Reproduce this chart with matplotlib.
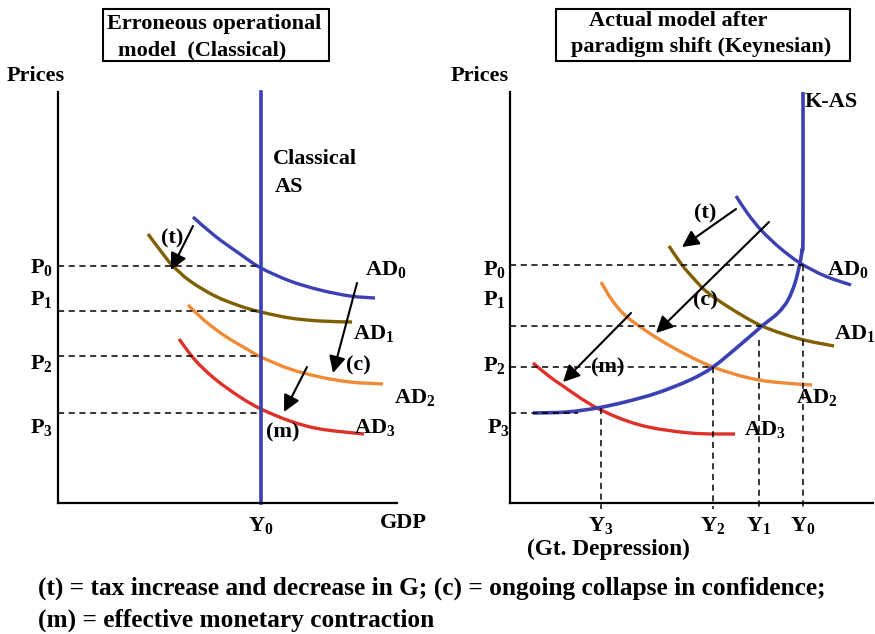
import matplotlib.pyplot as plt
from matplotlib.patches import Rectangle, PathPatch
from matplotlib.path import Path

plt.rcParams['font.family'] = ['Liberation Serif', 'DejaVu Serif']
plt.rcParams['font.weight'] = 'bold'
plt.rcParams['mathtext.fontset'] = 'custom'
plt.rcParams['mathtext.rm'] = 'Liberation Serif:bold'
plt.rcParams['mathtext.it'] = 'Liberation Serif:bold'
plt.rcParams['mathtext.bf'] = 'Liberation Serif:bold'

BLUE = '#3b40b3'
OLIVE = '#7f5f00'
ORANGE = '#f08a35'
RED = '#e0302a'

# ---- left panel (classical), units = pixels from the origin ----
l_as_x = 203
l_ad0_x = [135, 157, 182, 203, 232, 262, 292, 317]
l_ad0_y = [286, 267, 249, 235, 222, 213, 207, 205]
l_ad1_x = [90, 102, 114, 132, 157, 182, 203, 232, 262, 294]
l_ad1_y = [269, 253, 238, 222, 207, 197, 191, 185, 182, 181]
l_ad2_x = [130, 147, 167, 187, 203, 232, 262, 292, 325]
l_ad2_y = [198, 182, 167, 155, 146, 134, 126, 121, 119]
l_ad3_x = [121, 137, 157, 182, 203, 232, 262, 306]
l_ad3_y = [164, 143, 124, 106, 94, 82, 74, 69]
l_prices = [237, 192, 147, 90]
l_plabel_y = [235, 203, 140, 76]
l_arrows = [((135, 277), (113, 233)), ((299, 220), (275, 130)), ((249, 136), (226, 91))]
l_arrow_lbl = [('(t)', 114, 265), ('(c)', 300, 138), ('(m)', 225, 71)]
l_ad_lbl = [(307, 233, '0'), (295, 170, '1'), (336, 106, '2'), (296, 76, '3')]

# ---- right panel (Keynesian) ----
kas_x = [293, 293, 292, 290, 285, 278, 268, 252, 230, 203, 180, 147, 115, 87, 57, 23]
kas_y = [411, 268, 253, 240, 220, 203, 190, 177, 158, 136, 123, 110, 101, 95, 91, 90]
r_ad0_x = [226, 238, 252, 270, 290, 315, 341]
r_ad0_y = [307, 289, 272, 255, 240, 227, 218]
r_ad1_x = [159, 172, 185, 197, 220, 252, 290, 324]
r_ad1_y = [257, 238, 223, 211, 195, 177, 164, 157]
r_ad2_x = [91, 102, 117, 147, 175, 203, 235, 263, 302]
r_ad2_y = [221, 203, 186, 165, 149, 136, 126, 121, 118]
r_ad3_x = [23, 35, 50, 87, 130, 180, 225]
r_ad3_y = [140, 130, 119, 95, 78, 70, 69]
r_p_y = [238, 177, 136, 90]
r_p_x = [293, 252, 203, 68]
r_y_x = [293, 249, 203, 91]
r_y_top = [238, 163, 136, 95]
r_plabel_y = [233, 203, 138, 76]
r_y_lbl = ['0', '1', '2', '3']
r_arrows = [((226, 294), (172, 256)), ((259, 281), (146, 170)), ((121, 190), (53, 121))]
r_arrow_lbl = [('(t)', 195, 290), ('(c)', 195, 203), ('(m)', 98, 136)]
r_ad_lbl = [(317, 233, '0'), (324, 170, '1'), (286, 106, '2'), (234, 73, '3')]

notes = ['(t) = tax increase and decrease in G; (c) = ongoing collapse in confidence;',
         '(m) = effective monetary contraction']

W, H = 875, 634
fig = plt.figure(figsize=(W / 100, H / 100), dpi=100)

def panel(left, width):
    ax = fig.add_axes([left / W, (H - 503) / H, width / W, 411 / H])
    ax.set_xlim(0, width)
    ax.set_ylim(0, 411)
    for s in ['top', 'right']:
        ax.spines[s].set_visible(False)
    ax.spines['left'].set_linewidth(1.6)
    ax.spines['bottom'].set_linewidth(1.6)
    ax.set_xticks([])
    ax.set_yticks([])
    ax.patch.set_alpha(0)
    return ax

def curve(ax, xs, ys, color, lw=2.4):
    # smooth line through the read points (Catmull-Rom drawn as Bezier segments)
    pts = list(zip(xs, ys))
    verts, codes = [pts[0]], [Path.MOVETO]
    for i in range(len(pts) - 1):
        p0 = pts[i - 1] if i > 0 else pts[i]
        p1, p2 = pts[i], pts[i + 1]
        p3 = pts[i + 2] if i + 2 < len(pts) else p2
        c1 = (p1[0] + (p2[0] - p0[0]) / 6, p1[1] + (p2[1] - p0[1]) / 6)
        c2 = (p2[0] - (p3[0] - p1[0]) / 6, p2[1] - (p3[1] - p1[1]) / 6)
        verts += [c1, c2, p2]
        codes += [Path.CURVE4] * 3
    ax.add_patch(PathPatch(Path(verts, codes), fill=False, ec=color, lw=lw,
                           capstyle='butt', clip_on=False))

def arrow(ax, a, b):
    ax.annotate('', xy=b, xytext=a,
                arrowprops=dict(arrowstyle='-|>,head_length=1.0,head_width=0.5',
                                color='black', lw=1.5, shrinkA=0, shrinkB=0))

fs = 16
dash = dict(color='black', lw=1.1, ls=(0, (4, 3)))

# left
axl = panel(58, 339)
for y in l_prices:
    axl.plot([0, l_as_x], [y, y], **dash)
curve(axl, l_ad0_x, l_ad0_y, BLUE)
curve(axl, l_ad1_x, l_ad1_y, OLIVE)
curve(axl, l_ad2_x, l_ad2_y, ORANGE)
curve(axl, l_ad3_x, l_ad3_y, RED)
axl.plot([l_as_x, l_as_x], [0, 411], color=BLUE, lw=2.6, clip_on=False)
for a, b in l_arrows:
    arrow(axl, a, b)
for t, x, y in l_arrow_lbl:
    axl.text(x, y, t, fontsize=fs, ha='center', va='center')
for x, y, n in l_ad_lbl:
    axl.text(x, y, 'AD$_%s$' % n, fontsize=fs, ha='left', va='center')
for i, y in enumerate(l_plabel_y):
    axl.text(-28, y, 'P$_%d$' % i, fontsize=fs, ha='left', va='center', clip_on=False)
axl.text(215, 344, 'Classical', fontsize=fs, ha='left', va='center')
axl.text(217, 316, 'AS', fontsize=fs, ha='left', va='center')
axl.text(l_as_x, -22, 'Y$_0$', fontsize=fs, ha='center', va='center')
axl.text(322, -20, 'GDP', fontsize=fs, ha='left', va='center')
axl.text(-51, 427, 'Prices', fontsize=fs, ha='left', va='center')
axl.annotate('', xy=(-45, 97), xytext=(-45, 234), clip_on=False,
             arrowprops=dict(arrowstyle='-|>,head_length=1.1,head_width=0.5',
                             color='black', lw=1.6, shrinkA=0, shrinkB=0))

# right
axr = panel(510, 363)
for x, y in zip(r_p_x, r_p_y):
    axr.plot([0, x], [y, y], **dash)
for x, y in zip(r_y_x, r_y_top):
    axr.plot([x, x], [y, -6], clip_on=False, **dash)
curve(axr, r_ad0_x, r_ad0_y, BLUE)
curve(axr, r_ad1_x, r_ad1_y, OLIVE)
curve(axr, r_ad2_x, r_ad2_y, ORANGE)
curve(axr, r_ad3_x, r_ad3_y, RED)
curve(axr, kas_x, kas_y, BLUE, lw=2.6)
for a, b in r_arrows:
    arrow(axr, a, b)
for t, x, y in r_arrow_lbl:
    axr.text(x, y, t, fontsize=fs, ha='center', va='center')
for x, y, n in r_ad_lbl:
    axr.text(x, y, 'AD$_%s$' % n, fontsize=fs, ha='left', va='center')
for i, y in enumerate(r_plabel_y):
    axr.text(-27 if i < 3 else -23, y, 'P$_%d$' % i, fontsize=fs, ha='left',
             va='center', clip_on=False)
for x, n in zip(r_y_x, r_y_lbl):
    axr.text(x, -22, 'Y$_%s$' % n, fontsize=fs, ha='center', va='center')
axr.text(98, -46, '(Gt. Depression)', fontsize=16.8, ha='center', va='center')
axr.text(295, 401, 'K-AS', fontsize=fs, ha='left', va='center')
axr.text(-59, 427, 'Prices', fontsize=fs, ha='left', va='center')

# title boxes
for x0, x1, lines in [(103, 329, [('Erroneous operational', 107, 24),
                                  ('model  (Classical)', 118, 50)]),
                      (556, 850, [('Actual model after', 589, 21),
                                  ('paradigm shift (Keynesian)', 571, 47)])]:
    fig.patches.append(Rectangle((x0 / W, 1 - 61 / H), (x1 - x0) / W, 52 / H,
                                 transform=fig.transFigure, fill=False,
                                 ec='black', lw=1.5))
    for t, x, y in lines:
        fig.text(x / W, 1 - y / H, t, fontsize=fs, ha='left', va='center')

fig.text(38 / W, 1 - 588 / H, notes[0], fontsize=18.3, ha='left', va='center')
fig.text(38 / W, 1 - 620 / H, notes[1], fontsize=18.3, ha='left', va='center')

fig.savefig('out.png', dpi=100)
